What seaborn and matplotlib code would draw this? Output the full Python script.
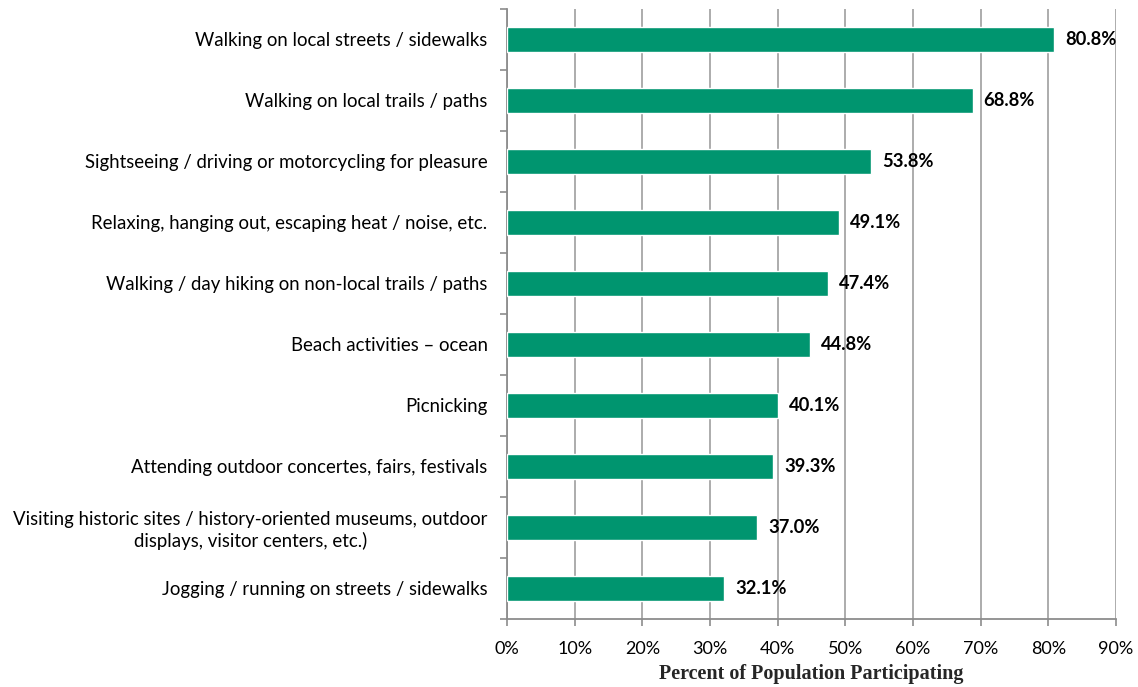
import matplotlib.pyplot as plt
import matplotlib.ticker as mticker
import pandas as pd
import seaborn as sns

activities = [
    "Walking on local streets / sidewalks",
    "Walking on local trails / paths",
    "Sightseeing / driving or motorcycling for pleasure",
    "Relaxing, hanging out, escaping heat / noise, etc.",
    "Walking / day hiking on non-local trails / paths",
    "Beach activities \u2013 ocean",
    "Picnicking",
    "Attending outdoor concertes, fairs, festivals",
    "Visiting historic sites / history-oriented museums, outdoor\ndisplays, visitor centers, etc.)",
    "Jogging / running on streets / sidewalks",
]
percent = [80.8, 68.8, 53.8, 49.1, 47.4, 44.8, 40.1, 39.3, 37.0, 32.1]

df = pd.DataFrame({"activity": activities, "percent": percent})

sns.set_theme(style="white")
plt.rcParams["font.family"] = ["Lato", "DejaVu Sans"]

fig = plt.figure(figsize=(11.38, 6.87), dpi=100)
ax = fig.add_axes([0.4455, 0.099, 0.5352, 0.888])

sns.barplot(data=df, x="percent", y="activity", color="#00956F",
            width=0.4, saturation=1, ax=ax, zorder=3)

ax.set_xlim(0, 90)
ax.set_ylim(9.5, -0.5)
ax.xaxis.set_major_locator(mticker.MultipleLocator(10))
ax.xaxis.set_major_formatter(mticker.FuncFormatter(lambda v, p: f"{v:.0f}%"))
ax.grid(axis="x", color="#a6a6a6", linewidth=1.3, zorder=0)
ax.set_axisbelow(True)

ax.bar_label(ax.containers[0], fmt="%.1f%%", padding=8,
             fontsize=13.2, fontweight="bold", color="black")

# category boundary ticks on the left axis
ax.set_yticks([i - 0.5 for i in range(11)], minor=True)
ax.tick_params(axis="y", which="major", length=0, pad=14, labelsize=13.4,
               labelcolor="black")
ax.tick_params(axis="y", which="minor", length=5, width=1.2, color="#8c8c8c",
               direction="out", left=True)
ax.tick_params(axis="x", which="major", length=5, width=1.2, color="#8c8c8c",
               direction="out", bottom=True, labelsize=13, pad=11,
               labelcolor="black")
for t in ax.get_yticklabels():
    t.set_multialignment("center")

for side in ["top", "right"]:
    ax.spines[side].set_visible(False)
for side in ["left", "bottom"]:
    ax.spines[side].set_color("#8c8c8c")
    ax.spines[side].set_linewidth(1.3)

ax.set_ylabel("")
ax.set_xlabel("Percent of Population Participating", family="Liberation Serif",
              fontweight="bold", fontsize=14.5, labelpad=5)

fig.savefig("out.png", dpi=100)
